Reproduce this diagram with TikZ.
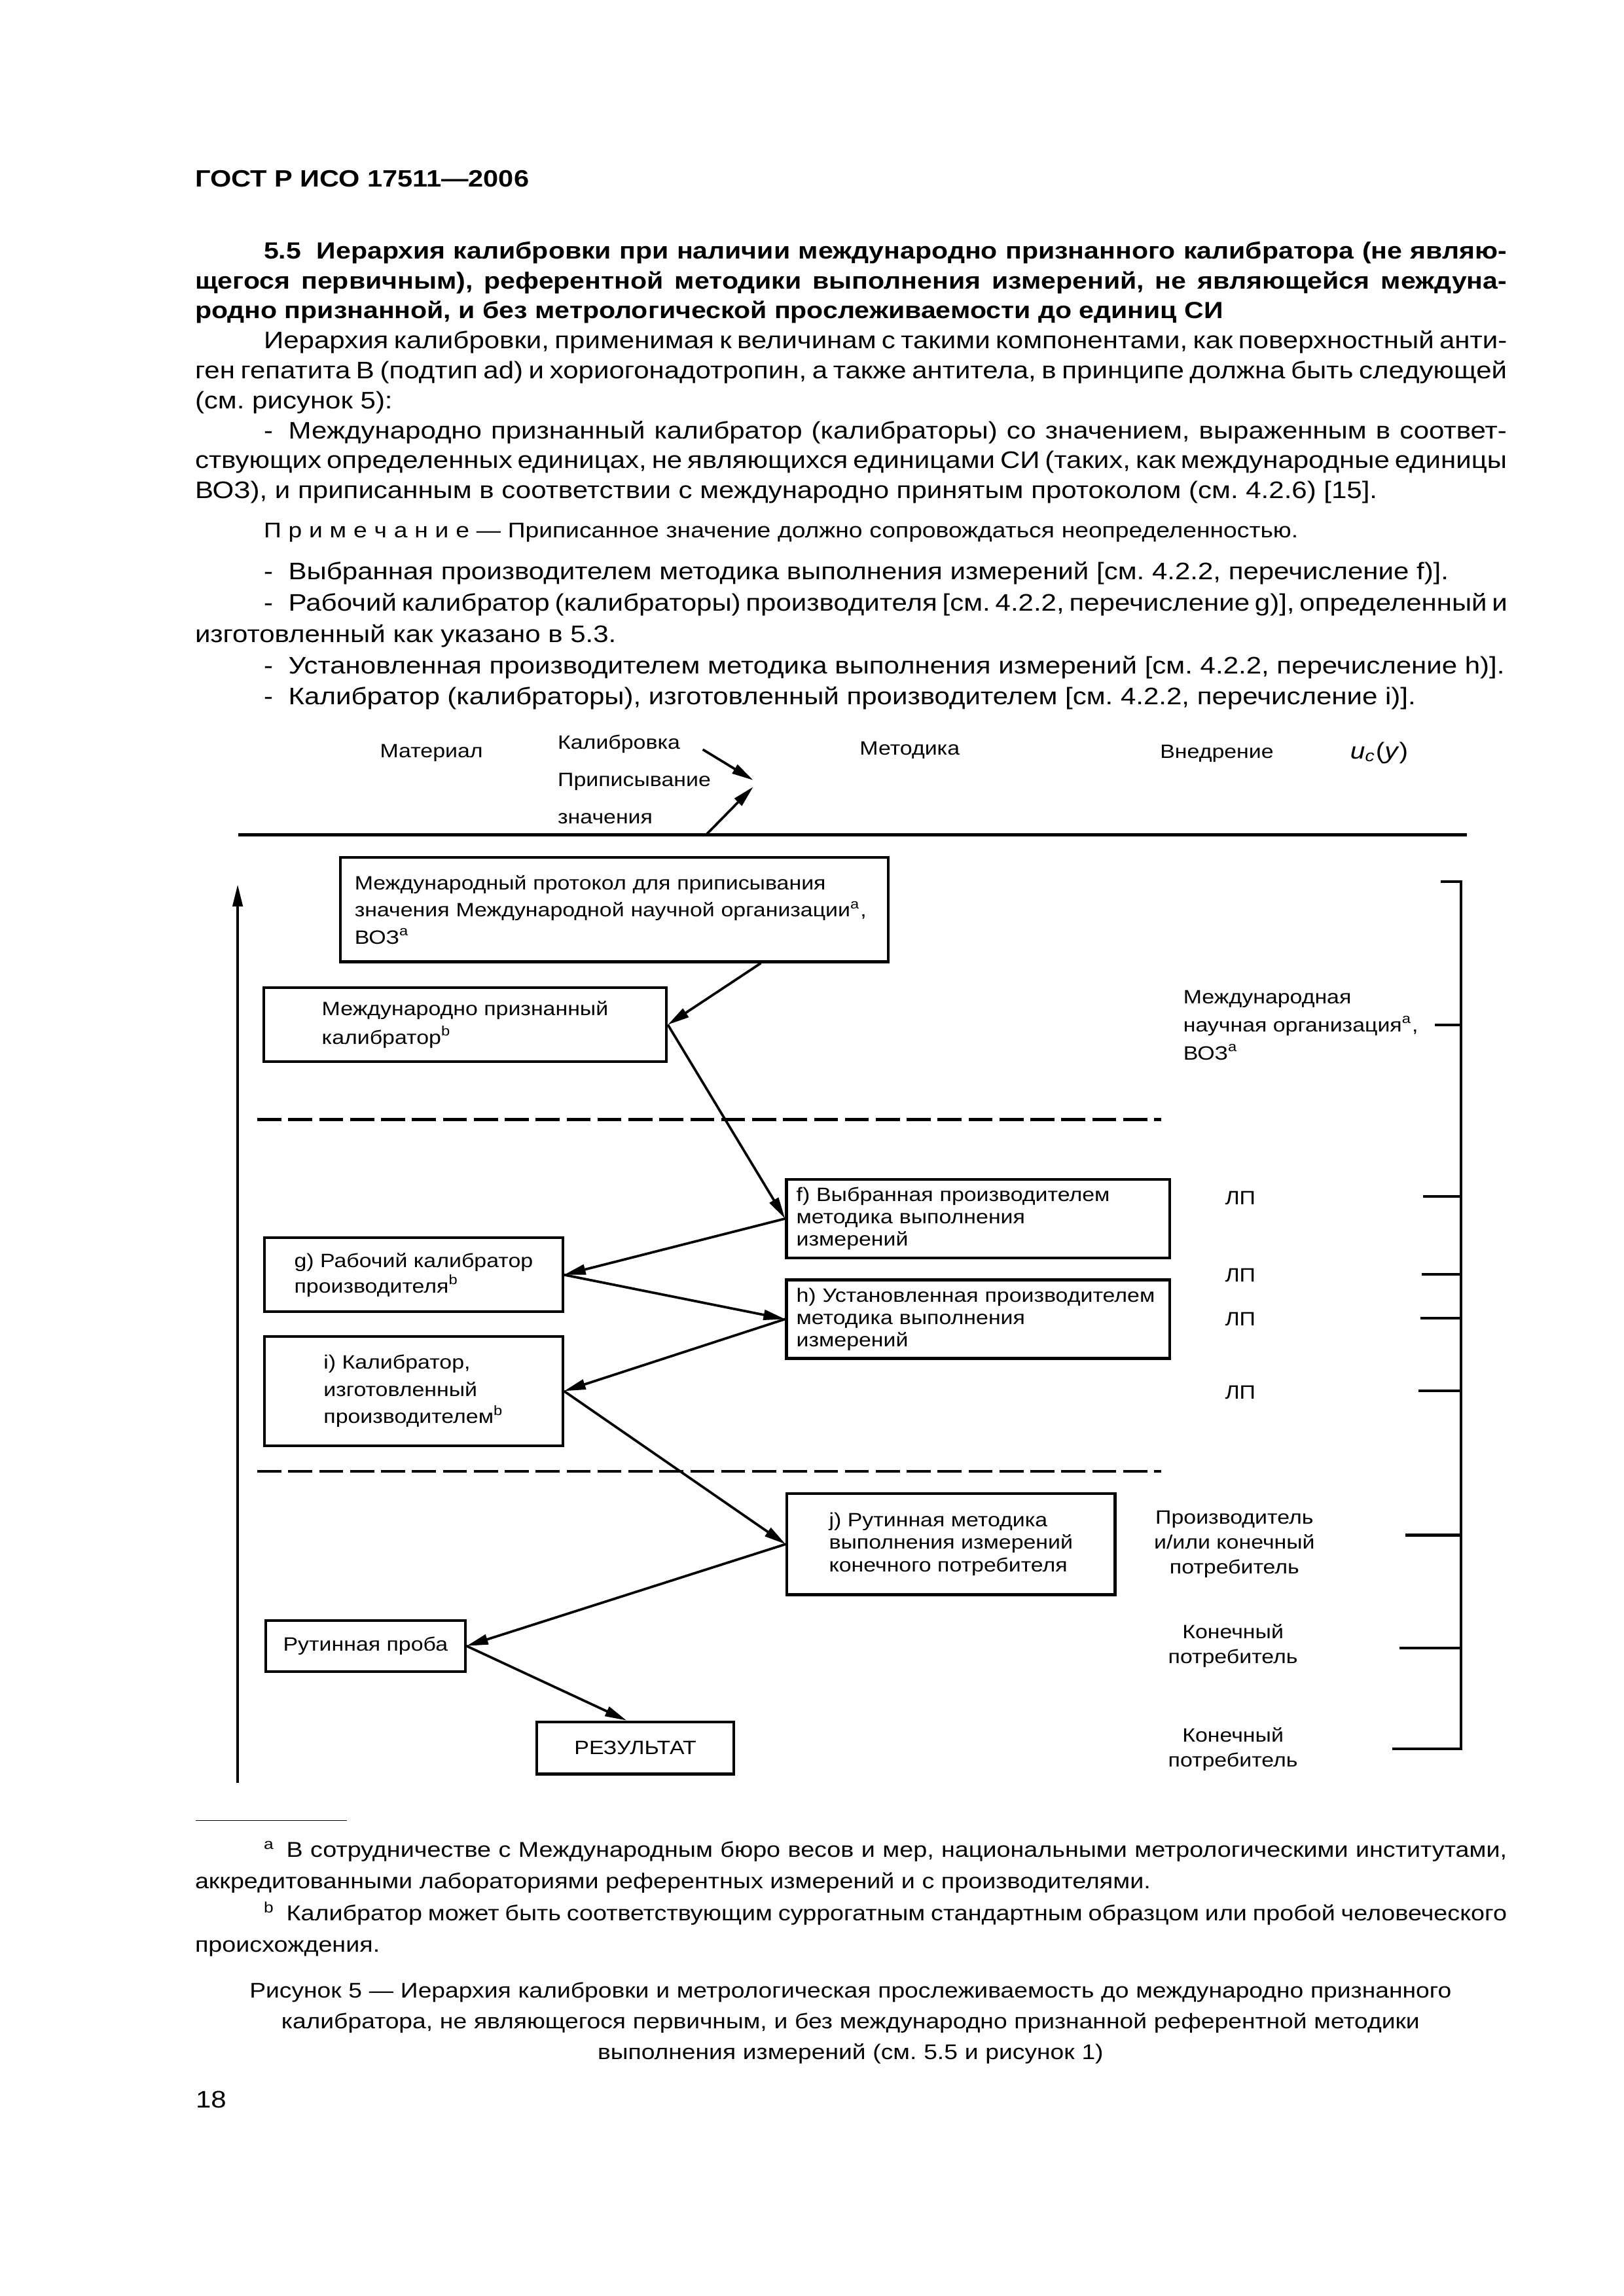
\documentclass[tikz,border=0pt]{standalone}
\usepackage{fontspec}
\setmainfont{Liberation Sans}[FakeStretch=1.15]
\usetikzlibrary{arrows.meta, positioning, calc}
\frenchspacing

\newcommand{\fullline}[1]{\makebox[16.97cm][s]{#1}\\}
\newcommand{\indnt}{\hspace*{0.89cm}}
\newcommand{\itemdash}{-\hspace*{0.2cm}}

\begin{document}
\begin{tikzpicture}[
  x=0.018919cm, y=-0.018919cm,
  para/.style={anchor=base west, inner sep=0pt, text width=16.97cm, align=justify, font=\fontsize{8.8}{11}\selectfont},
  box/.style={draw, line width=1pt, inner sep=0pt, align=left, font=\fontsize{7.1}{10}\selectfont},
  lbl/.style={inner sep=0pt, align=center, font=\fontsize{7.1}{9.1}\selectfont},
  link/.style={-{Triangle[length=2.8mm, width=1.3mm]}, line width=0.9pt},
  sep/.style={line width=1pt, dash pattern=on 0.31cm off 0.09cm},
  tick/.style={line width=1pt}
]
  % Page
  \fill[white] (0,0) rectangle (1110,1570);

  % Running head
  \node[para, font=\fontsize{8.7}{10}\selectfont\bfseries] (gost) at (133,128) {ГОСТ Р ИСО 17511—2006};

  % Section heading
  \node[para, font=\fontsize{8.6}{11}\selectfont\bfseries] (head) at (133,177) {%
    \fullline{\indnt 5.5\hspace*{0.2cm}Иерархия калибровки при наличии международно признанного калибратора (не являю-}%
    \fullline{щегося первичным), референтной методики выполнения измерений, не являющейся междуна-}%
    родно признанной, и без метрологической прослеживаемости до единиц СИ};

  % Text before the figure
  \node[para] (intro) at (133,238.5) {%
    \fullline{\indnt Иерархия калибровки, применимая к величинам с такими компонентами, как поверхностный анти-}%
    \fullline{ген гепатита В (подтип ad) и хориогонадотропин, а также антитела, в принципе должна быть следующей}%
    (см. рисунок 5):};
  \node[para] (item1) at (133,300) {%
    \fullline{\indnt\itemdash Международно признанный калибратор (калибраторы) со значением, выраженным в соответ-}%
    \fullline{ствующих определенных единицах, не являющихся единицами СИ (таких, как международные единицы}%
    ВОЗ), и приписанным в соответствии с международно принятым протоколом (см. 4.2.6) [15].};
  \node[para, align=left, font=\fontsize{7.8}{9}\selectfont] (note) at (133,367.5) {\indnt П р и м е ч а н и е — Приписанное значение должно сопровождаться неопределенностью.};
  \node[para, font=\fontsize{8.8}{11.5}\selectfont] (items) at (133,396.5) {%
    \indnt\itemdash Выбранная производителем методика выполнения измерений [см. 4.2.2, перечисление f)].\\
    \fullline{\indnt\itemdash Рабочий калибратор (калибраторы) производителя [см. 4.2.2, перечисление g)], определенный и}%
    изготовленный как указано в 5.3.\\
    \indnt\itemdash Установленная производителем методика выполнения измерений [см. 4.2.2, перечисление h)].\\
    \indnt\itemdash Калибратор (калибраторы), изготовленный производителем [см. 4.2.2, перечисление i)].};

  % Column titles
  \node[lbl] (mat) at (295,515) {Материал};
  \node[lbl, anchor=west, align=left, font=\fontsize{7.1}{13.8}\selectfont] (calib) at (381,533) {Калибровка\\Приписывание\\значения};
  \node[lbl] (meth) at (622,513) {Методика};
  \node[lbl] (impl) at (832,515.5) {Внедрение};
  \node[lbl, font=\fontsize{8.5}{9}\selectfont] (unc) at (943,515) {\textit{u}\textsubscript{\textit{c}}(\textit{y})};
  \coordinate (ruleL) at (162.8,571);
  \coordinate (ruleR) at (1003,571);
  \draw[line width=1.2pt] (ruleL) -- (ruleR);
  \coordinate (cal1) at (480.5,512.5);
  \coordinate (cal1tip) at (515,533.5);
  \coordinate (cal2) at (482.6,571);
  \coordinate (cal2tip) at (515,538);
  \draw[link] (cal1) -- (cal1tip);
  \draw[link] (cal2) -- (cal2tip);

  % Left axis
  \coordinate (axisB) at (162.5,1219);
  \coordinate (axisT) at (162.5,605);
  \draw[link, line width=0.8pt] (axisB) -- (axisT);

  % Hierarchy boxes
  \node[box, minimum width=7.09cm, minimum height=1.35cm, text width=6.72cm] (proto) at (420.1,622) {Международный протокол для приписывания\\значения Международной научной организации\textsuperscript{a},\\ВОЗ\textsuperscript{a}};
  \node[box, minimum width=5.21cm, minimum height=0.955cm, font=\fontsize{7.1}{10.5}\selectfont] (intcal) at (318,700.7) {Международно признанный\\калибратор\textsuperscript{b}};
  \node[box, minimum width=4.957cm, minimum height=1.016cm, text width=4.7cm, font=\fontsize{7.1}{8.2}\selectfont] (choose) at (668.7,833.3) {f) Выбранная производителем\\методика выполнения\\измерений};
  \node[box, minimum width=3.856cm, minimum height=0.959cm, font=\fontsize{7.1}{9.4}\selectfont] (workcal) at (282.8,871.7) {g) Рабочий калибратор\\производителя\textsuperscript{b}};
  \node[box, minimum width=4.957cm, minimum height=1.016cm, text width=4.7cm, font=\fontsize{7.1}{8.2}\selectfont] (setm) at (668.7,902) {h) Установленная производителем\\методика выполнения\\измерений};
  \node[box, minimum width=3.856cm, minimum height=1.411cm] (mfgcal) at (282.8,951.2) {i) Калибратор,\\изготовленный\\производителем\textsuperscript{b}};
  \node[box, minimum width=4.244cm, minimum height=1.307cm, font=\fontsize{7.1}{8.3}\selectfont] (routine) at (650.2,1055.9) {j) Рутинная методика\\выполнения измерений\\конечного потребителя};
  \node[box, minimum width=2.579cm, minimum height=0.664cm] (sample) at (249.9,1125.5) {Рутинная проба};
  \node[box, minimum width=2.55cm, minimum height=0.675cm] (result) at (434.4,1195.2) {РЕЗУЛЬТАТ};

  % Traceability chain
  \draw[link] ([xshift=1.894cm]proto.south) -- (intcal.east);
  \draw[link] (intcal.east) -- (choose.west);
  \draw[link] (choose.west) -- (workcal.east);
  \draw[link] (workcal.east) -- (setm.west);
  \draw[link] (setm.west) -- (mfgcal.east);
  \draw[link] (mfgcal.east) -- (routine.west);
  \draw[link] (routine.west) -- (sample.east);
  \draw[link] (sample.east) -- ([xshift=-0.114cm]result.north);

  % Level separators
  \coordinate (sepAL) at (176,765.5);
  \coordinate (sepAR) at (794,765.5);
  \draw[sep] (sepAL) -- (sepAR);
  \coordinate (sepBL) at (176,1006);
  \coordinate (sepBR) at (794,1006);
  \draw[sep] (sepBL) -- (sepBR);

  % Uncertainty bracket
  \draw[tick] (985,603) -- (999,603) -- (999,1196) -- (952,1196);
  \draw[tick] (981,701) -- (999,701);
  \draw[tick] (973,818) -- (999,818);
  \draw[tick] (972,871.4) -- (999,871.4);
  \draw[tick] (971,901.5) -- (999,901.5);
  \draw[tick] (970,950.9) -- (999,950.9);
  \draw[tick] (961,1049.7) -- (999,1049.7);
  \draw[tick] (957,1127) -- (999,1127);

  % Implementation labels
  \node[lbl, anchor=west, align=left, font=\fontsize{7.1}{10.4}\selectfont] (org) at (808.7,701) {Международная\\научная организация\textsuperscript{a},\\ВОЗ\textsuperscript{a}};
  \node[lbl] (lp1) at (848,819) {ЛП};
  \node[lbl] (lp2) at (848,872) {ЛП};
  \node[lbl] (lp3) at (848,902) {ЛП};
  \node[lbl] (lp4) at (848,952) {ЛП};
  \node[lbl] (mfr) at (844,1056) {Производитель\\и/или конечный\\потребитель};
  \node[lbl] (user1) at (843,1125.5) {Конечный\\потребитель};
  \node[lbl] (user2) at (843,1196) {Конечный\\потребитель};

  % Footnotes
  \coordinate (fnL) at (134,1244.8);
  \coordinate (fnR) at (237,1244.8);
  \draw[line width=0.4pt] (fnL) -- (fnR);
  \node[para, font=\fontsize{7.9}{11.6}\selectfont] (notes) at (133,1270) {%
    \fullline{\indnt\textsuperscript{a}\hspace*{0.15cm}В сотрудничестве с Международным бюро весов и мер, национальными метрологическими институтами,}%
    аккредитованными лабораториями референтных измерений и с производителями.\\
    \fullline{\indnt\textsuperscript{b}\hspace*{0.15cm}Калибратор может быть соответствующим суррогатным стандартным образцом или пробой человеческого}%
    происхождения.};

  % Caption and page number
  \node[anchor=base, inner sep=0pt, text width=16.97cm, align=center, font=\fontsize{7.8}{11.4}\selectfont] (cap) at (581.5,1366) {Рисунок 5 — Иерархия калибровки и метрологическая прослеживаемость до международно признанного\\калибратора, не являющегося первичным, и без международно признанной референтной методики\\выполнения измерений (см. 5.5 и рисунок 1)};
  \node[para] (pnum) at (133.5,1441.5) {18};
\end{tikzpicture}
\end{document}
